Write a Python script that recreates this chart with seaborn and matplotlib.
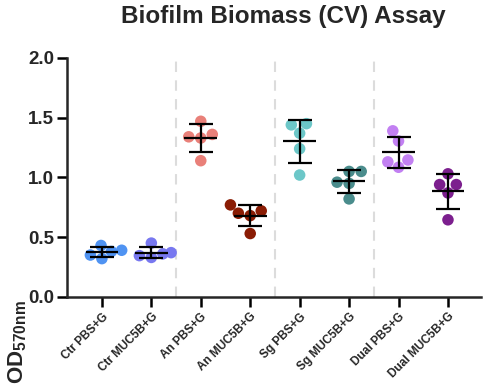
import matplotlib
matplotlib.use("Agg")

import matplotlib.pyplot as plt
import numpy as np
import pandas as pd
import seaborn as sns

# ── Data (OD570nm readings, 5 replicates per group) ──
groups = ["Ctr PBS+G", "Ctr MUC5B+G", "An PBS+G", "An MUC5B+G",
          "Sg PBS+G", "Sg MUC5B+G", "Dual PBS+G", "Dual MUC5B+G"]
ctr_pbs = [0.43, 0.39, 0.35, 0.38, 0.32]
ctr_muc = [0.45, 0.37, 0.36, 0.345, 0.33]
an_pbs = [1.47, 1.36, 1.33, 1.34, 1.14]
an_muc = [0.77, 0.72, 0.70, 0.68, 0.53]
sg_pbs = [1.45, 1.44, 1.37, 1.24, 1.02]
sg_muc = [1.05, 1.05, 0.96, 0.95, 0.82]
dual_pbs = [1.39, 1.305, 1.146, 1.13, 1.085]
dual_muc = [1.03, 0.94, 0.94, 0.87, 0.645]
colors = ["#4f93f2", "#7878f0", "#e98079", "#8a1c04",
          "#6cc7c8", "#4a8c8c", "#c280f2", "#7c1f8e"]

values = [ctr_pbs, ctr_muc, an_pbs, an_muc, sg_pbs, sg_muc, dual_pbs, dual_muc]
df = pd.DataFrame({
    "group": np.repeat(groups, [len(v) for v in values]),
    "od": np.concatenate(values),
})

# ── Style ──
sns.set_theme(style="ticks")
plt.rcParams["font.family"] = ["Liberation Sans", "DejaVu Sans"]
plt.rcParams["font.weight"] = "bold"
plt.rcParams["mathtext.fontset"] = "custom"
plt.rcParams["mathtext.bf"] = "Liberation Sans:bold"
plt.rcParams["mathtext.rm"] = "Liberation Sans:bold"

fig = plt.figure(figsize=(4.84, 3.84), dpi=100)
ax = fig.add_axes([0.138, 0.227, 0.856, 0.622])

sns.swarmplot(data=df, x="group", y="od", hue="group", order=groups,
              palette=colors, size=8.3, linewidth=0, legend=False, ax=ax, zorder=3)

# mean ± SD
stats = df.groupby("group", sort=False)["od"].agg(["mean", "std"]).reindex(groups)
xs = np.arange(len(groups))
ax.hlines(stats["mean"], xs - 0.33, xs + 0.33, color="black", lw=1.6, zorder=4)
ax.errorbar(xs, stats["mean"], yerr=stats["std"], fmt="none", ecolor="black",
            elinewidth=1.6, capsize=8.5, capthick=1.6, zorder=4)

# separators between strains
for sx in [1.5, 3.5, 5.5]:
    ax.axvline(sx, color="#dcdcdc", lw=1.5, ls=(0, (5, 4)), zorder=1)

ax.set_xlim(-0.71, 7.67)
ax.set_ylim(0, 2.0)
ax.set_yticks([0, 0.5, 1.0, 1.5, 2.0])
ax.set_yticklabels(["0.0", "0.5", "1.0", "1.5", "2.0"], fontsize=13.5, fontweight="bold")
ax.set_xticks(xs)
ax.set_xticklabels(groups, rotation=45, ha="right", rotation_mode="anchor",
                   fontsize=8.5, fontweight="bold")
ax.set_xlabel("")
ax.set_ylabel("")
for side in ["left", "bottom"]:
    ax.spines[side].set_linewidth(1.8)
sns.despine(ax=ax)
ax.tick_params(axis="both", width=1.8, length=7, color="black")
ax.tick_params(axis="x", pad=3)
ax.tick_params(axis="y", pad=2)

fig.text(0.585, 0.958, "Biofilm Biomass (CV) Assay", ha="center", va="center",
         fontsize=17.5, fontweight="bold")
fig.text(0.014, 0.0, r"$\mathbf{OD}_{\mathbf{570nm}}$", rotation=90,
         ha="left", va="bottom", fontsize=16)

plt.savefig("out.png", dpi=100)
plt.close()
